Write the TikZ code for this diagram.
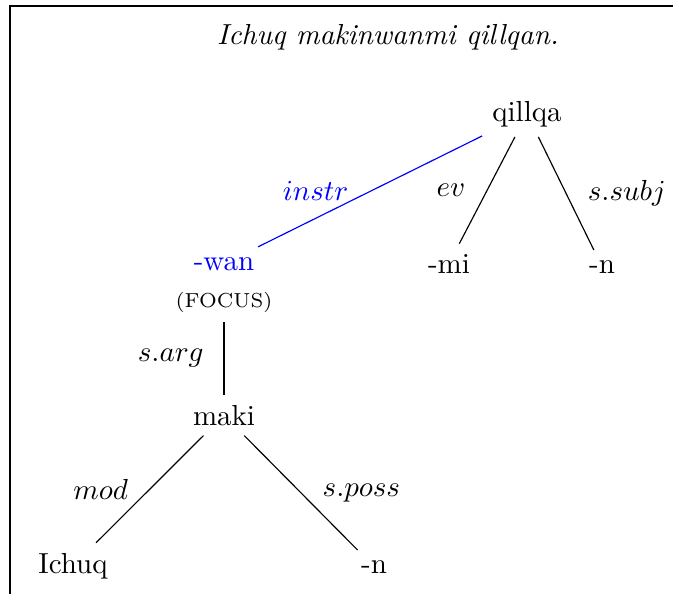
\documentclass[tikz,border=0pt]{standalone}
\usepackage{xcolor}
\usepackage{tikz}
\definecolor{FocusBlue}{RGB}{0,0,255}
\tikzset{
  morph/.style={anchor=base, inner sep=3.33pt},
  focusmorph/.style={morph, text=FocusBlue},
  rellbl/.style={midway, inner sep=3.33pt},
  link/.style={draw=black, line width=0.4pt},
  focuslink/.style={draw=FocusBlue, line width=0.4pt},
}

\begin{document}
\begin{tikzpicture}[x=0.345pt, y=-0.345pt]
  \useasboundingbox (0,0) rectangle (673,594);
  % frame
  \draw[line width=0.5pt] (673,6) -- (10,6) -- (10,594);
  % sentence
  \node[morph, font=\itshape] (sent) at (388,44) {Ichuq makinwanmi qillqan.};
  % morphemes
  \node[morph] (qillqa) at (527,121) {qillqa};
  \node[focusmorph] (wan) at (224,270) {-wan};
  \node[morph, font=\scriptsize] (focus) at (224,307) {(FOCUS)};
  \node[morph] (mi) at (449,273) {-mi};
  \node[morph] (subjn) at (602,273) {-n};
  \node[morph] (maki) at (224,425) {maki};
  \node[morph] (ichuq) at (73,573) {Ichuq};
  \node[morph] (possn) at (374,573) {-n};
  % relations
  \draw[focuslink] (qillqa) -- node[rellbl, left=4pt, text=FocusBlue] {$instr$} (wan);
  \draw[link] (qillqa) -- node[rellbl, left=4pt] {$ev$} (mi);
  \draw[link] (qillqa) -- node[rellbl, right=4pt] {$s.subj$} (subjn);
  \draw[link] (focus) -- node[rellbl, left=3.5pt] {$s.arg$} (maki);
  \draw[link] (maki) -- node[rellbl, left=4pt] {$mod$} (ichuq);
  \draw[link] (maki) -- node[rellbl, right=4pt] {$s.poss$} (possn);
\end{tikzpicture}
\end{document}
